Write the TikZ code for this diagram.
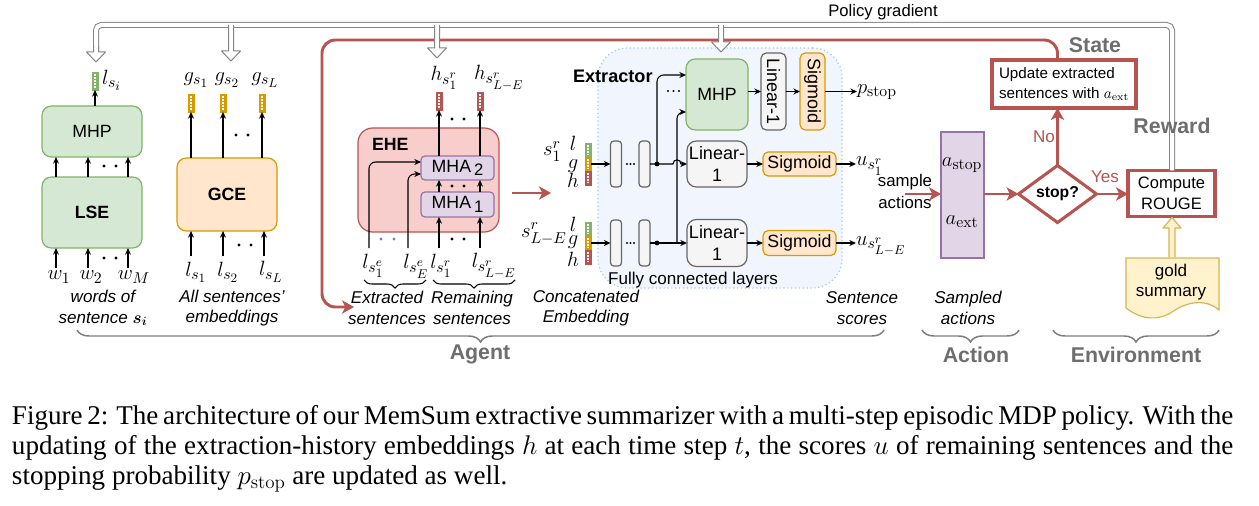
\RequirePackage{fix-cm}
\documentclass[tikz,border=0pt]{standalone}
\usepackage[no-math]{fontspec}
\setmainfont{Liberation Sans}
\newfontfamily\capserif{Liberation Serif}
\usepackage{amsmath,bm,graphicx}
\DeclareMathSizes{15.5}{15.5}{11.8}{9.6}
\DeclareMathSizes{14}{14}{10.8}{8.8}
\usetikzlibrary{arrows.meta,shapes.geometric,decorations.pathreplacing,calc}
\definecolor{gF}{HTML}{D5E8D4}\definecolor{gS}{HTML}{82B366}
\definecolor{oF}{HTML}{FFE6CC}\definecolor{oS}{HTML}{D79B00}
\definecolor{rF}{HTML}{F8CECC}\definecolor{rS}{HTML}{B85450}
\definecolor{pF}{HTML}{E1D5E7}\definecolor{pS}{HTML}{9673A6}
\definecolor{kF}{HTML}{F5F5F5}\definecolor{kS}{HTML}{666666}
\definecolor{yF}{HTML}{FFF2CC}\definecolor{yS}{HTML}{D6B656}
\definecolor{bF}{HTML}{F1F6FE}\definecolor{bS}{HTML}{A9C4EB}
\definecolor{labG}{HTML}{6E6E6E}
\definecolor{pgG}{HTML}{858585}
\newcommand\hollowdown[3]{%
  \fill[white] (#1-2.5,#2) -- (#1-2.5,#3-10) -- (#1-9.5,#3-10) -- (#1,#3) -- (#1+9.5,#3-10) -- (#1+2.5,#3-10) -- (#1+2.5,#2) -- cycle;
  \draw[pgG, line width=0.75pt, line join=round] (#1-2.5,#2) -- (#1-2.5,#3-10) -- (#1-9.5,#3-10) -- (#1,#3) -- (#1+9.5,#3-10) -- (#1+2.5,#3-10) -- (#1+2.5,#2);}
\newcommand\mhasub[1]{\,\raisebox{-0.4ex}{\fontsize{12.5}{12.5}\selectfont #1}}
\begin{document}
\begin{tikzpicture}[x=0.75pt,y=-0.75pt,
 every node/.style={inner sep=0pt, outer sep=0pt},
 sz/.style 2 args={minimum width=#1*0.75pt, minimum height=#2*0.75pt},
 txt/.style={font=\fontsize{12.8}{15.5}\selectfont, align=center},
 ital/.style={font=\fontsize{12.8}{15.3}\selectfont\itshape, align=center},
 mth/.style={font=\fontsize{15.5}{17}\selectfont},
 bld/.style={font=\fontsize{13.3}{16}\selectfont\bfseries},
 biglab/.style={font=\fontsize{16}{19}\selectfont\bfseries, text=labG},
 bx/.style={draw, rounded corners=7pt, line width=0.9pt, align=center, font=\fontsize{13.3}{15.8}\selectfont},
 gbox/.style={bx, fill=gF, draw=gS},
 obox/.style={bx, fill=oF, draw=oS},
 rbox/.style={bx, fill=rF, draw=rS},
 pbox/.style={bx, fill=pF, draw=pS, rounded corners=3pt},
 kbox/.style={bx, fill=kF, draw=kS},
 fcbar/.style={kbox, rounded corners=2.5pt, sz={11}{46}},
 vecbox/.style={draw=#1, fill=#1, line width=0.5pt, sz={6}{18}, path picture={\draw[white, line width=0.8pt, dash pattern=on 1.3pt off 1pt] ([yshift=-1.5pt]path picture bounding box.north) -- ([yshift=1.5pt]path picture bounding box.south);}},
 segbox/.style={vecbox=#1, sz={6}{14}},
 arr/.style={-{Stealth[length=5pt,width=4.5pt]}, line width=0.8pt},
 rarr/.style={draw=rS, line width=2.2pt, -{Stealth[length=9pt,width=10pt,inset=2.5pt]}},
 envbox/.style={draw=rS, line width=2.5pt, fill=white, align=center, font=\fontsize{12.4}{15.5}\selectfont},
 gbrace/.style={draw=labG!90, line width=1.1pt, decorate, decoration={brace, amplitude=9pt, mirror}},
 sbrace/.style={draw=black, line width=0.8pt, decorate, decoration={brace, amplitude=6pt, mirror}}
]
\fill[white] (0,0) rectangle (1259,506);
\useasboundingbox (0,0) rectangle (1259,506);

% ---------------- left: LSE / MHP
\node[gbox, sz={100}{51}] (mhpL) at (92,131.5) {MHP};
\node[gbox, sz={100}{71}, font=\fontsize{13.3}{16}\selectfont\bfseries] (lse) at (92,212.5) {LSE};
\node[vecbox=gS] (vls) at (95,81) {};
\node[mth, anchor=west] (lsi) at (102,80) {$l_{s_i}$};
\draw[arr] (mhpL.north -| vls) -- (vls.south);
\foreach \x in {56,88,128} {
  \draw[arr] (lse.north -| \x,0) -- (mhpL.south -| \x,0);
  \draw[arr] (\x,268) -- (lse.south -| \x,0);
}
\fill (104,166) circle (1.3pt); \fill (116,166) circle (1.3pt);
\fill (104,258) circle (1.3pt); \fill (116,258) circle (1.3pt);
\node[mth] (w1) at (59,277) {$w_1$};
\node[mth] (w2) at (91,277) {$w_2$};
\node[mth] (wM) at (134,277) {$w_M$};
\node[ital] (wl) at (103,308) {words of\\sentence $\bm{s_i}$};

% ---------------- GCE
\node[obox, sz={100}{73}, font=\fontsize{13.3}{16}\selectfont\bfseries] (gce) at (227,194.5) {GCE};
\node[vecbox=oS] (vg1) at (191,103) {};
\node[vecbox=oS] (vg2) at (223,103) {};
\node[vecbox=oS] (vg3) at (262,103) {};
\node[mth] (g1) at (196,80) {$g_{s_1}$};
\node[mth] (g2) at (227,80) {$g_{s_2}$};
\node[mth] (g3) at (265,80) {$g_{s_L}$};
\foreach \v in {vg1,vg2,vg3} \draw[arr] (gce.north -| \v) -- (\v.south);
\fill (236,135) circle (1.3pt); \fill (248,135) circle (1.3pt);
\foreach \x in {191,223,264} \draw[arr] (\x,256) -- (gce.south -| \x,0);
\fill (239,245) circle (1.3pt); \fill (251,245) circle (1.3pt);
\node[mth] (l1) at (196,272) {$l_{s_1}$};
\node[mth] (l2) at (228,272) {$l_{s_2}$};
\node[mth] (l3) at (271,272) {$l_{s_L}$};
\node[ital] (al) at (232,308) {All sentences'\\embeddings};

% ---------------- EHE
\node[rbox, sz={141}{104}, rounded corners=11pt] (ehe) at (428.5,180) {};
\node[bld, anchor=west] (ehel) at (372,144) {EHE};
\node[pbox, sz={73}{24}] (mha2) at (457.5,168) {MHA\mhasub{2}};
\node[pbox, sz={73}{25}] (mha1) at (457.5,204.5) {MHA\mhasub{1}};
\node[vecbox=rS] (vh1) at (439,101) {};
\node[vecbox=rS] (vh2) at (480,101) {};
\node[mth] (h1) at (444,78) {$h_{s_1^r}$};
\node[mth] (h2) at (499,78) {$h_{s^r_{L-E}}$};
\foreach \v in {vh1,vh2} {
  \draw[arr] (mha2.north -| \v) -- (\v.south);
  \draw[arr] (mha1.north -| \v) -- (mha2.south -| \v);
  \draw[arr] (\v |- 0,248) -- (mha1.south -| \v);
}
\fill (452,119) circle (1.3pt); \fill (464,119) circle (1.3pt);
\fill (452,186) circle (1.3pt); \fill (464,186) circle (1.3pt);
\fill (452,239) circle (1.3pt); \fill (464,239) circle (1.3pt);
\coordinate (e1) at (369,248);
\coordinate (e2) at (408,248);
\draw[arr, rounded corners=5pt] (e1) |- ($(mha2.west)+(0,-6)$);
\draw[arr, rounded corners=5pt] (e2) |- ($(mha2.west)+(0,6)$);
\fill[pS] (381,239) circle (1.3pt); \fill[pS] (394,239) circle (1.3pt);
\node[mth] (le1) at (373,266) {$l_{s_1^e}$};
\node[mth] (leE) at (416,266) {$l_{s_E^e}$};
\node[mth] (lr1) at (441,266) {$l_{s_1^r}$};
\node[mth] (lrL) at (494,266) {$l_{s^r_{L-E}}$};
\draw[sbrace] (364,280) -- (426,280);
\draw[sbrace] (433,280) -- (515,280);
\node[ital] (exl) at (387,308) {Extracted\\sentences};
\node[ital] (rml) at (472,308) {Remaining\\sentences};
\coordinate (eheout) at (512,193);
\coordinate (extin) at (551,193);
\draw[rarr] (eheout) -- (extin);

% ---------------- Extractor
\node[draw=bS, fill=bF, dotted, line width=0.9pt, rounded corners=22pt, sz={244}{240}] (extr) at (720,168) {};
\node[font=\fontsize{13.6}{16}\selectfont\bfseries, anchor=west] (extl) at (573,76) {Extractor};
\node[gbox, sz={62}{71}] (mhpE) at (717,94.5) {MHP};
\node[kbox, sz={25}{77}, rounded corners=4pt, font=\fontsize{13.5}{16}\selectfont] (lin0) at (773.5,91.5) {\rotatebox{-90}{Linear-1}};
\node[obox, sz={25}{77}, rounded corners=4pt, font=\fontsize{13.5}{16}\selectfont] (sig0) at (812.5,91.5) {\rotatebox{-90}{Sigmoid}};
\node[mth, anchor=west] (ps) at (857,92) {$p_{\mathrm{stop}}$};
\draw[arr] (mhpE.east |- lin0) -- (lin0.west);
\draw[arr] (lin0.east) -- (sig0.west);
\draw[arr] (sig0.east) -- (sig0.east -| ps.west);
\fill (668,91) circle (0.8pt); \fill (673.5,91) circle (0.8pt); \fill (679,91) circle (0.8pt);

% row 1
\node[segbox=gS] (b1g) at (588,150) {};
\node[segbox=oS] (b1o) at (588,164) {};
\node[segbox=rS] (b1r) at (588,178) {};
\node[mth, anchor=base west] (s1) at (543,156) {$s_1^r$};
\node[mth, anchor=base] (l1r) at (573,151) {$l$};
\node[mth, anchor=base] (g1r) at (573,168) {$g$};
\node[mth, anchor=base] (h1r) at (573,187) {$h$};
\node[fcbar] (fc11) at (616,164) {};
\node[fcbar] (fc12) at (644.5,164) {};
\fill (627,164) circle (0.9pt); \fill (630.5,164) circle (0.9pt); \fill (634,164) circle (0.9pt);
\node[kbox, sz={60}{46}, font=\fontsize{13.5}{15.8}\selectfont] (lin1) at (717,164) {Linear-\\1};
\node[obox, sz={73}{24}, rounded corners=4pt] (sig1) at (799.5,164) {Sigmoid};
\node[mth, anchor=west] (u1) at (856,166) {$u_{s_1^r}$};
\draw[arr] (b1o.east) -- (fc11.west);
\coordinate (j1) at (657,164);
\draw[arr] (fc12.east) -- (673,164) .. controls (673,158.5) and (681,158.5) .. (681,164) -- (lin1.west);
\fill (j1) circle (1.8pt);
\draw[arr] (lin1.east) -- (sig1.west);
\draw[arr] (sig1.east) -- (sig1.east -| u1.west);

% row 2
\node[segbox=gS] (b2g) at (588,229) {};
\node[segbox=oS] (b2o) at (588,243) {};
\node[segbox=rS] (b2r) at (588,257) {};
\node[mth, anchor=base west] (sL) at (521,237) {$s^r_{L-E}$};
\node[mth, anchor=base] (l2r) at (573,231) {$l$};
\node[mth, anchor=base] (g2r) at (573,244) {$g$};
\node[mth, anchor=base] (h2r) at (573,266) {$h$};
\node[fcbar] (fc21) at (616,243) {};
\node[fcbar] (fc22) at (644.5,243) {};
\fill (627,243) circle (0.9pt); \fill (630.5,243) circle (0.9pt); \fill (634,243) circle (0.9pt);
\node[kbox, sz={60}{47}, font=\fontsize{13.5}{15.8}\selectfont] (lin2) at (717,243) {Linear-\\1};
\node[obox, sz={73}{25}, rounded corners=4pt] (sig2) at (799.5,243) {Sigmoid};
\node[mth, anchor=west] (u2) at (856,246) {$u_{s^r_{L-E}}$};
\draw[arr] (b2o.east) -- (fc21.west);
\coordinate (j2) at (657,243);
\coordinate (v2) at (677,243);
\draw[arr] (fc22.east) -- (lin2.west);
\fill (j2) circle (1.8pt);
\draw[arr] (lin2.east) -- (sig2.west);
\draw[arr] (sig2.east) -- (sig2.east -| u2.west);
\draw[arr, rounded corners=5pt] (j1) |- ($(mhpE.west)+(0,-19.5)$);
\draw[arr, rounded corners=5pt] (v2) |- ($(mhpE.west)+(0,17.5)$);

\node[txt] (fcl) at (693,280) {Fully connected layers};
\node[ital] (cel) at (586,308) {Concatenated\\Embedding};
\node[ital] (ssl) at (862,308) {Sentence\\scores};

% ---------------- Action / Environment
\node[txt, font=\fontsize{12.6}{15.8}\selectfont] (samp) at (905,191.5) {sample\\actions};
\node[pbox, sz={43}{126}, rounded corners=0pt, line width=1.3pt] (act) at (962.5,195) {};
\node[mth] (ast) at (962,165) {$a_{\mathrm{stop}}$};
\node[mth] (aex) at (962,222) {$a_{\mathrm{ext}}$};
\coordinate (sa) at (905,194);
\draw[rarr] (sa) -- (act.west |- sa);
\node[diamond, draw=rS, line width=2.3pt, fill=white, sz={78}{46}, font=\fontsize{11.8}{14}\selectfont\bfseries] (dia) at (1057.5,194) {stop?};
\draw[rarr] (act.east |- dia) -- (dia.west);
\node[envbox, sz={144}{48}, align=left, font=\fontsize{11.4}{14.5}\selectfont] (upd) at (1064,84) {Update extracted\\sentences with $a_{\mathrm{ext}}$};
\draw[rarr] (dia.north) -- (dia.north |- upd.south);
\node[txt, text=rS] (no) at (1044,137) {No};
\node[envbox, sz={87}{46}] (cmp) at (1171.5,193.5) {Compute\\ROUGE};
\draw[rarr] (dia.east) -- (dia.east -| cmp.west);
\node[txt, text=rS] (yes) at (1105,177) {Yes};
\draw[draw=yS, fill=yF, line width=0.9pt] (1126,258) -- (1219,258) -- (1219,310) .. controls (1205,298) and (1186,302) .. (1172,312) .. controls (1158,321) and (1142,320) .. (1126,308) -- cycle;
\node[txt] (gold) at (1171,282) {gold\\summary};
\draw[draw=yS, fill=yF, line width=0.9pt, line join=round] (1169,257) -- (1169,228) -- (1163,228) -- (1172,217.5) -- (1181,228) -- (1175,228) -- (1175,257);
\node[ital] (sal) at (968,308) {Sampled\\actions};

% ---------------- state feedback (red)
\draw[draw=rS, line width=2.2pt, rounded corners=10pt, -{Stealth[length=9pt,width=10pt,inset=2.5pt]}] (upd.north -| dia.north) |- (322,40) -- (322,307) -- (354,307);

% ---------------- policy gradient
\node[font=\fontsize{12.5}{15}\selectfont] (pgl) at (883,12) {Policy gradient};
\draw[pgG, double=white, double distance=3pt, line width=0.75pt, rounded corners=4pt] (cmp.north -| 1172,0) -- (1172,25) -- (96,25) -- (96,53);
\hollowdown{96}{46}{62}
\hollowdown{231}{25}{61}
\hollowdown{437}{25}{58}
\hollowdown{721}{25}{52}

% ---------------- labels and braces
\node[biglab] (state) at (1095,45) {State};
\node[biglab] (reward) at (1172,126) {Reward};
\draw[gbrace] (77,330) -- (884,330);
\draw[gbrace] (922,330) -- (1019,330);
\draw[gbrace] (1053,330) -- (1219,330);
\node[biglab] (agent) at (480,354) {Agent};
\node[biglab] (action) at (976,355) {Action};
\node[biglab] (envl) at (1136,355) {Environment};

% ---------------- caption
\node[anchor=north west, align=left, font=\capserif\fontsize{20.3}{22.5}\selectfont] (cap) at (12,405) {\makebox[916pt][s]{Figure 2: The architecture of our MemSum extractive summarizer with a multi-step episodic MDP policy. With the}\\\makebox[916pt][s]{updating of the extraction-history embeddings $h$ at each time step $t$, the scores $u$ of remaining sentences and the}\\stopping probability $p_{\mathrm{stop}}$ are updated as well.};
\end{tikzpicture}
\end{document}
